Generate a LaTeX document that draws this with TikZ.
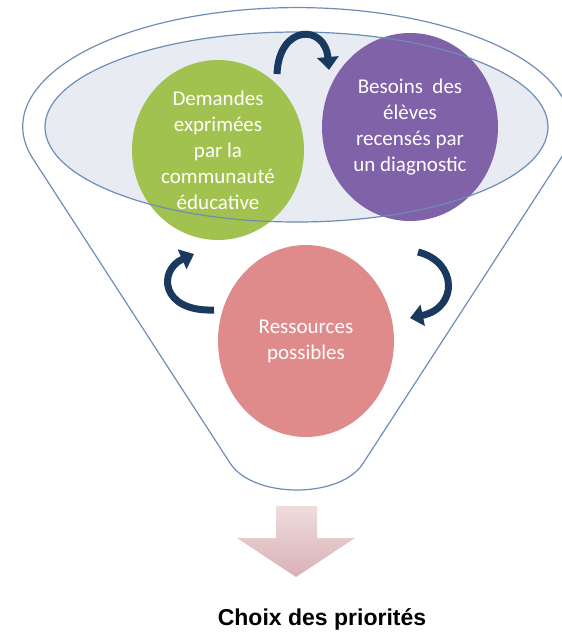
\documentclass[tikz,border=0pt]{standalone}
\usepackage{fontspec}
\setmainfont{Carlito}
\newfontfamily\labelfont{Liberation Sans}
\usetikzlibrary{arrows.meta, shapes.geometric}

\definecolor{rimblue}{HTML}{6E8DB5}
\definecolor{mistfill}{HTML}{E9EBF3}
\definecolor{leafgreen}{HTML}{A2C24F}
\definecolor{plum}{HTML}{7F62A7}
\definecolor{rose}{HTML}{E08B8B}
\definecolor{navy}{HTML}{1A395E}
\definecolor{blushtop}{HTML}{EEDCDD}
\definecolor{blushbot}{HTML}{D9B1B6}

\begin{document}
\begin{tikzpicture}
  [
    x=1pt, y=-1pt,
    bubble/.style={ellipse, inner sep=0pt, align=center, text=white,
      font=\fontsize{21}{26}\selectfont},
    rim/.style={draw=rimblue, line width=1.2pt},
    turn/.style={-{Triangle[width=21pt, length=13pt]}, draw=navy, line width=7pt}
  ]
    \useasboundingbox (0,0) rectangle (562,633);
    \clip (0,0) rectangle (562,633);

    % =========================================================================
    % FUNNEL
    % =========================================================================
    \draw [rim] (33.4,159.4) arc [start angle=164, end angle=376,
      x radius=274, y radius=119] -- (363.3,463)
      .. controls (341,499) and (253,499) .. (230,463) -- cycle;
    \fill [mistfill] (296.5,127) ellipse [x radius=251.5, y radius=95];

    % =========================================================================
    % NODES
    % =========================================================================
    \node [bubble, fill=leafgreen, minimum width=172pt, minimum height=180pt]
      (demandes) at (218,150)
      {Demandes\\exprimées\\par la\\communauté\\éducative};
    \node [bubble, fill=plum, minimum width=176pt, minimum height=188pt]
      (besoins) at (410,127)
      {Besoins~~des\\élèves\\recensés par\\un diagnostic};
    \node [bubble, fill=rose, minimum width=176pt, minimum height=192pt]
      (ressources) at (306,341) {Ressources\\possibles};

    \draw [rim] (296.5,127) ellipse [x radius=251.5, y radius=95];

    \node [anchor=base, inner sep=0pt, text=black,
      font=\labelfont\bfseries\fontsize{23}{28}\selectfont]
      (choix) at (322,625) {Choix des priorités};

    \coordinate (topfrom) at (277,74);
    \coordinate (topto) at (329,70);
    \coordinate (rightfrom) at (418,252);
    \coordinate (rightto) at (410,318);
    \coordinate (leftfrom) at (214,310);
    \coordinate (leftto) at (194,254);

    % =========================================================================
    % PATHS
    % =========================================================================
    \draw [turn] (topfrom) .. controls (279,24) and (325,24) .. (topto);
    \draw [turn] (rightfrom) .. controls (458,262) and (458,308) .. (rightto);
    \draw [turn] (leftfrom) .. controls (160,312) and (158,270) .. (leftto);

    \shade [top color=blushtop, bottom color=blushbot]
      (276,506) -- (317,506) -- (317,538) -- (355,538) -- (296,577)
      -- (237,538) -- (276,538) -- cycle;

  \end{tikzpicture}
\end{document}
